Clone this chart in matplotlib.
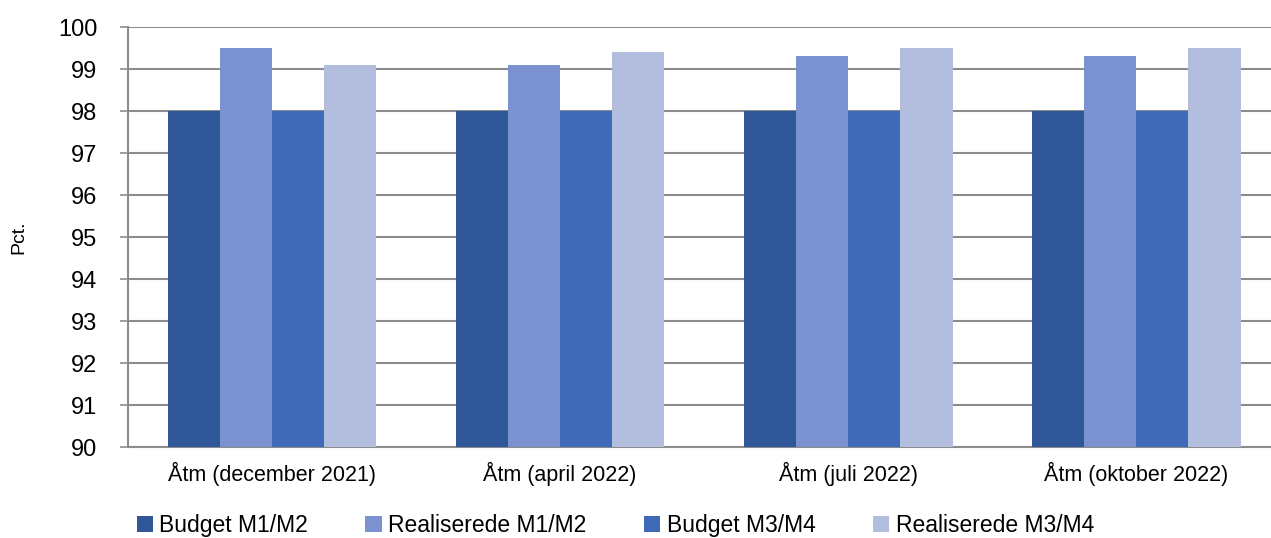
import numpy as np
import matplotlib
matplotlib.use("Agg")
import matplotlib.pyplot as plt

plt.rcParams['font.family'] = ['Liberation Sans', 'DejaVu Sans']

categories = ["Åtm (december 2021)", "Åtm (april 2022)", "Åtm (juli 2022)", "Åtm (oktober 2022)"]
series_names = ["Budget M1/M2", "Realiserede M1/M2", "Budget M3/M4", "Realiserede M3/M4"]
budget_m12 = [98, 98, 98, 98]
real_m12 = [99.5, 99.1, 99.3, 99.3]
budget_m34 = [98, 98, 98, 98]
real_m34 = [99.1, 99.4, 99.5, 99.5]
colors = ["#305797", "#7a92cf", "#3e6ab8", "#b3bedf"]

fig = plt.figure(figsize=(12.71, 5.38), dpi=100)
# plot area runs past the right edge, like in the original
ax = fig.add_axes([0.1007, 0.1691, 0.9064, 0.7807])

x = np.arange(len(categories))
w = 0.1814
vals = [budget_m12, real_m12, budget_m34, real_m34]
for i, (v, c, n) in enumerate(zip(vals, colors, series_names)):
    ax.bar(x + (i - 1.5) * w, np.array(v) - 90, bottom=90, width=w, color=c,
           label=n, zorder=3)

ax.set_ylim(90, 100)
ax.set_xlim(-0.5, len(categories) - 0.5)
ax.set_yticks(range(90, 101))
ax.yaxis.grid(True, color="#8c8c8c", linewidth=1.5, zorder=0)
ax.set_xticks(x)
ax.set_xticklabels(categories, fontsize=15.5)
ax.tick_params(axis='x', which='major', length=0, pad=11)
ax.tick_params(axis='y', labelsize=17, length=6, width=1.2, color="#8c8c8c", pad=16)
for s in ["top", "right"]:
    ax.spines[s].set_visible(False)
for s in ["left", "bottom"]:
    ax.spines[s].set_color("#8c8c8c")
    ax.spines[s].set_linewidth(1.5)
ax.set_ylabel("Pct.", fontsize=14, labelpad=22)

ax.legend(loc="center", bbox_to_anchor=(0.423, -0.186), ncol=4, frameon=False,
          fontsize=16.5, handlelength=0.7, handleheight=0.7, handletextpad=0.3,
          columnspacing=2.5, borderpad=0)

fig.savefig("out.png", dpi=100)
